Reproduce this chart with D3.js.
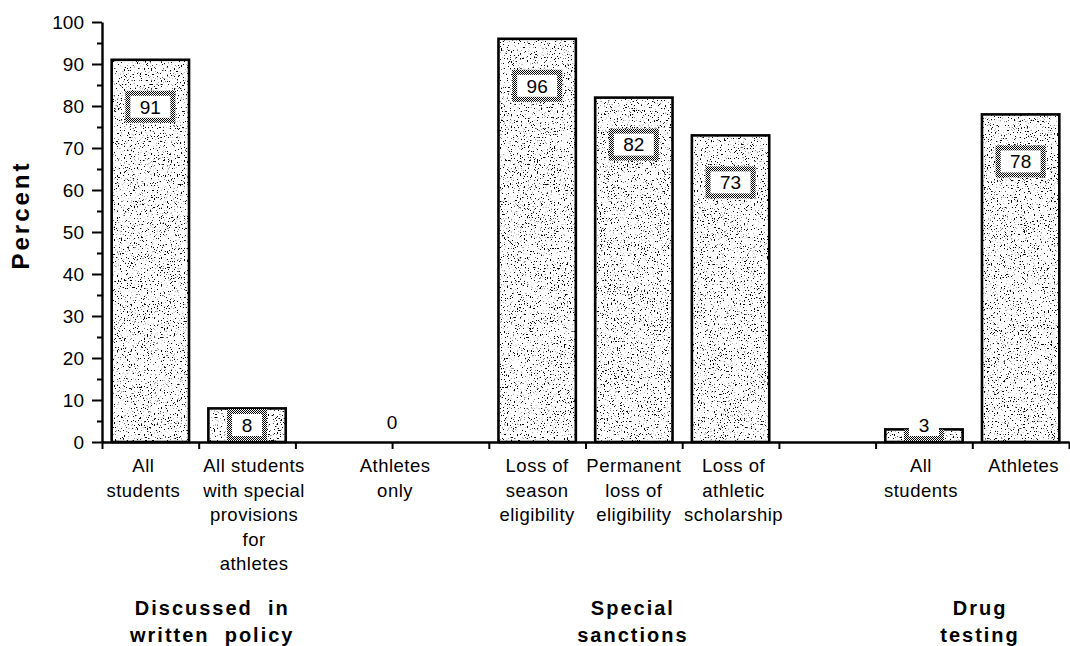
<!DOCTYPE html>
<html>
<head>
<meta charset="utf-8">
<script src="https://cdn.jsdelivr.net/npm/d3@7"></script>
<style>
  body { margin: 0; background: #fff; }
  text { font-family: "Liberation Sans", Arial, Helvetica, sans-serif; fill: #000; }
</style>
</head>
<body>
<svg id="chart" width="1070" height="646"></svg>
<script>
// ---- data ----------------------------------------------------------
const categories = [
  ["All", "students"],
  ["All students", "with special", "provisions", "for", "athletes"],
  ["Athletes", "only"],
  ["Loss of", "season", "eligibility"],
  ["Permanent", "loss of", "eligibility"],
  ["Loss of", "athletic", "scholarship"],
  ["All", "students"],
  ["Athletes"]
];
const percents = [91, 8, 0, 96, 82, 73, 3, 78];
const groupNames = [
  ["Discussed  in", "written  policy"],
  ["Special", "sanctions"],
  ["Drug", "testing"]
];
const groupOfCategory = [0, 0, 0, 1, 1, 1, 2, 2];
const yTickValues = [0, 10, 20, 30, 40, 50, 60, 70, 80, 90, 100];
const yAxisTitle = "Percent";

// ---- layout --------------------------------------------------------
// horizontal position of each bar in slot units (10 slots across the axis)
const slotOf = [0, 1, 2.5, 4, 5, 6, 8, 9];
// small horizontal nudges (px) for the category captions
const captionShift = [-7, 7, 3, 0, 0, 3, -3, 3];
const groupCenterSlot = [1.14, 5.49, 9.08];
const plot = { left: 102, right: 1069, top: 22, bottom: 442 };

const svg = d3.select("#chart");

const x = d3.scaleLinear().domain([0, 10]).range([plot.left, plot.right]);
const y = d3.scaleLinear().domain([0, 100]).range([plot.bottom, plot.top]);

// ---- textures ------------------------------------------------------
const defs = svg.append("defs");

// speckled grey fill used inside the bars
const stip = defs.append("filter").attr("id", "stipple")
  .attr("filterUnits", "objectBoundingBox")
  .attr("x", 0).attr("y", 0).attr("width", 1).attr("height", 1);
stip.append("feTurbulence")
  .attr("type", "fractalNoise").attr("baseFrequency", 0.7)
  .attr("numOctaves", 2).attr("seed", 7).attr("result", "noise");
stip.append("feColorMatrix").attr("in", "noise").attr("type", "matrix")
  .attr("values", "0 0 0 0 0  0 0 0 0 0  0 0 0 0 0  14 0 0 0 -8.6")
  .attr("result", "dots");
stip.append("feFlood").attr("flood-color", "#fff").attr("result", "white");
stip.append("feComposite").attr("in", "dots").attr("in2", "white").attr("operator", "over");

// denser dither around the value boxes
const dense = defs.append("pattern").attr("id", "dense")
  .attr("patternUnits", "userSpaceOnUse").attr("width", 2).attr("height", 2);
dense.append("rect").attr("width", 2).attr("height", 2).attr("fill", "#fff");
dense.append("rect").attr("width", 1).attr("height", 1).attr("fill", "#000");
dense.append("rect").attr("x", 1).attr("y", 1).attr("width", 1).attr("height", 1).attr("fill", "#000");

// ---- axes ----------------------------------------------------------
const yAxis = svg.append("g")
  .attr("transform", `translate(${plot.left},0)`)
  .call(d3.axisLeft(y).tickValues(yTickValues).tickSize(10).tickPadding(8).tickSizeOuter(0));
yAxis.selectAll("text").style("font-size", "19px").attr("dy", "0.36em");

const yMinor = svg.append("g")
  .attr("transform", `translate(${plot.left},0)`)
  .call(d3.axisLeft(y).tickValues(d3.range(5, 100, 10)).tickSize(5).tickFormat(""));
yMinor.select(".domain").remove();

svg.append("g")
  .attr("transform", `translate(0,${plot.bottom})`)
  .call(d3.axisBottom(x).tickValues(d3.range(0, 11)).tickSize(7).tickFormat("").tickSizeOuter(0));

svg.selectAll(".domain").attr("stroke", "#000").attr("stroke-width", 2.4);
svg.selectAll(".tick line").attr("stroke", "#000").attr("stroke-width", 2);

// y axis title
svg.append("text")
  .attr("transform", "translate(29,215) rotate(-90)")
  .attr("text-anchor", "middle")
  .style("font-size", "24px").style("font-weight", "bold")
  .style("letter-spacing", "3px")
  .text(yAxisTitle);

// ---- bars ----------------------------------------------------------
const rows = percents.map((v, i) => ({ v, i, slot: slotOf[i] }));
const barL = d => x(d.slot + 0.1);
const barW = d => x(d.slot + 0.9) - x(d.slot + 0.1);
const barCx = d => x(d.slot + 0.5);

const bars = svg.append("g").selectAll("g.bar")
  .data(rows.filter(d => d.v > 0))
  .join("g").attr("class", "bar");

bars.append("clipPath").attr("id", d => "clip" + d.i)
  .append("rect")
  .attr("x", barL).attr("y", d => y(d.v)).attr("width", barW).attr("height", d => y(0) - y(d.v));

bars.append("rect")
  .attr("x", barL).attr("y", d => y(d.v))
  .attr("width", barW).attr("height", d => y(0) - y(d.v))
  .attr("fill", "#fff").attr("filter", "url(#stipple)");

bars.append("rect")
  .attr("x", barL).attr("y", d => y(d.v))
  .attr("width", barW).attr("height", d => y(0) - y(d.v))
  .attr("fill", "none").attr("stroke", "#000").attr("stroke-width", 2.6);

// value boxes
const labelY = d => Math.min(y(d.v) + 47, y(0) - 17);
const boxW = d => String(d.v).length * 10 + 20;

bars.append("rect")
  .attr("clip-path", d => `url(#clip${d.i})`)
  .attr("x", d => barCx(d) - boxW(d) / 2 - 5).attr("y", d => labelY(d) - 16)
  .attr("width", d => boxW(d) + 10).attr("height", 32)
  .attr("fill", "url(#dense)");

bars.append("rect")
  .attr("x", d => barCx(d) - boxW(d) / 2).attr("y", d => labelY(d) - 11)
  .attr("width", boxW).attr("height", 22)
  .attr("fill", "#fff");

svg.append("g").selectAll("text")
  .data(rows)
  .join("text")
  .attr("x", barCx)
  .attr("y", d => d.v > 0 ? labelY(d) : y(0) - 20)
  .attr("dy", "0.36em")
  .attr("text-anchor", "middle")
  .style("font-size", "19px")
  .text(d => d.v);

// ---- category labels -----------------------------------------------
const catG = svg.append("g").selectAll("text")
  .data(rows)
  .join("text")
  .attr("text-anchor", "middle")
  .style("font-size", "18.5px")
  .style("letter-spacing", "0.5px");
catG.selectAll("tspan")
  .data(d => categories[d.i].map(line => ({ line, cx: barCx(d) + captionShift[d.i] })))
  .join("tspan")
  .attr("x", t => t.cx)
  .attr("y", (t, k) => 472 + k * 24.5)
  .text(t => t.line);

// ---- group labels --------------------------------------------------
const grp = svg.append("g").selectAll("text")
  .data(groupNames)
  .join("text")
  .attr("text-anchor", "middle")
  .style("font-size", "20px")
  .style("font-weight", "bold")
  .style("letter-spacing", "2px")
  .style("white-space", "pre");
grp.selectAll("tspan")
  .data((g, gi) => g.map(line => ({ line, cx: x(groupCenterSlot[gi]) })))
  .join("tspan")
  .attr("x", t => t.cx)
  .attr("y", (t, k) => 615 + k * 27)
  .text(t => t.line);
</script>
</body>
</html>
